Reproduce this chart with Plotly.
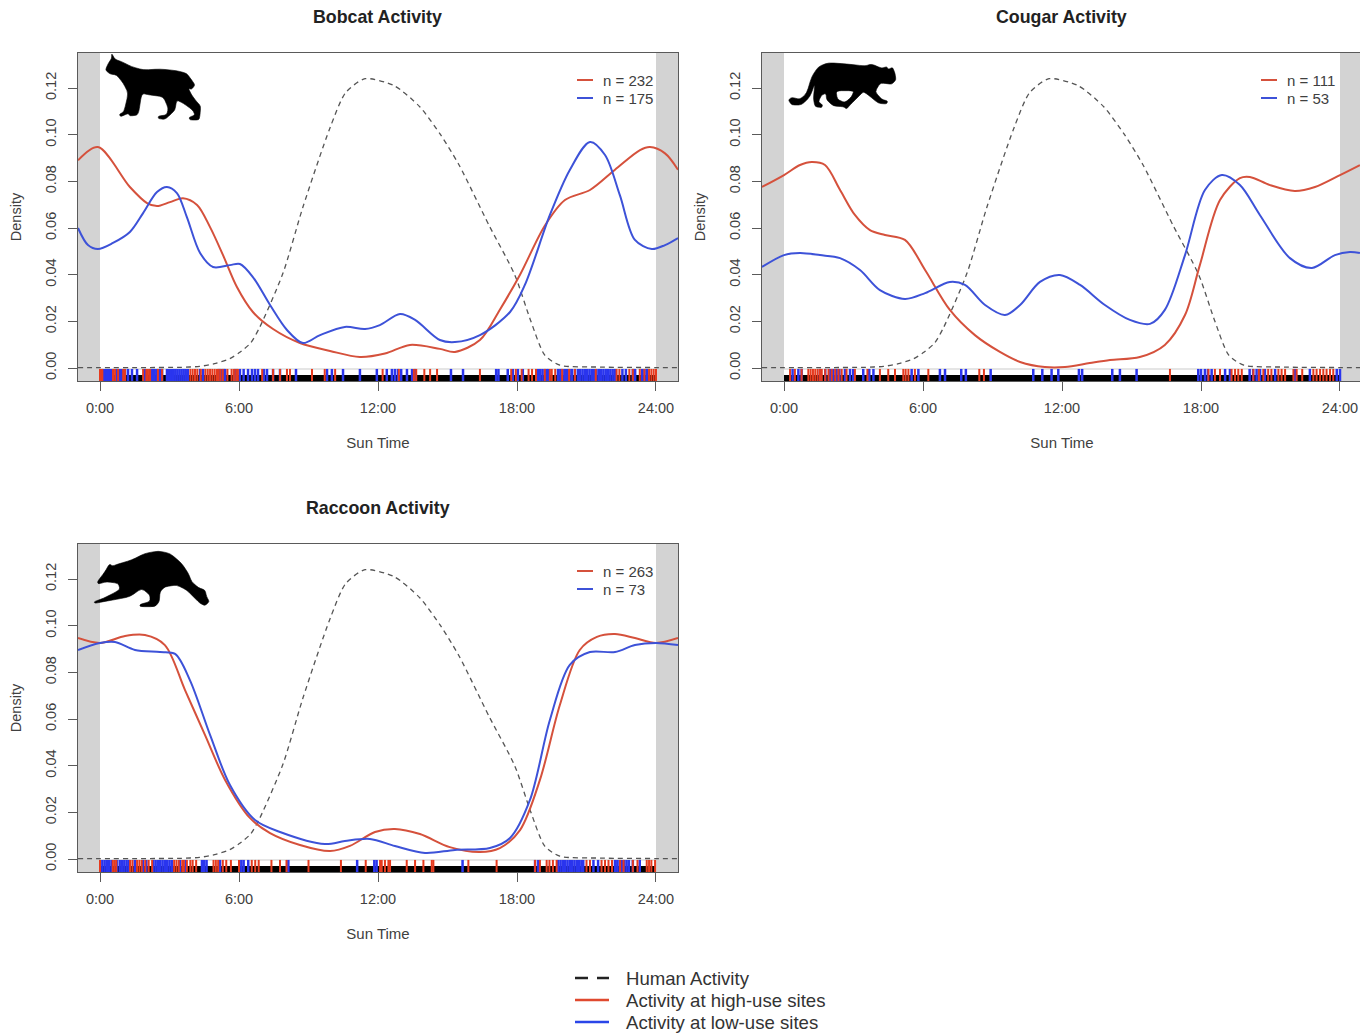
import plotly.graph_objects as go

W, H = 1367, 1036

# ---------- Density curves (hour, density) ----------
human_h = [-0.95, 0, 2, 3.5, 4.3, 5, 5.6, 6, 6.5, 6.9, 7.9, 8.76, 9.93, 10.6, 11.44, 12.7, 13.8, 14.7, 15.5, 16.8, 17.9, 18.6, 19.2, 19.85, 21.6, 24, 24.95]
human_d = [0.0002, 0.0002, 0.0002, 0.0003, 0.0007, 0.002, 0.004, 0.0065, 0.0107, 0.0176, 0.0407, 0.069, 0.103, 0.118, 0.124, 0.121, 0.112, 0.1, 0.087, 0.061, 0.04, 0.02, 0.0055, 0.0012, 0.0004, 0.0002, 0.0002]

bob_red_h = [-0.95, -0.09, 1.29, 2.03, 2.46, 3.02, 3.58, 4.19, 4.75, 5.31, 5.91, 6.6, 7.47, 8.63, 9.93, 11.22, 12.3, 13.38, 14.67, 15.32, 16.4, 17.26, 18.13, 19.2, 20.07, 21.15, 22.23, 23.31, 23.74, 24.39, 24.95]
bob_red_d = [0.089, 0.0947, 0.0776, 0.0707, 0.0694, 0.0711, 0.0728, 0.0699, 0.0604, 0.0484, 0.0347, 0.024, 0.0167, 0.0107, 0.0073, 0.0047, 0.0062, 0.0099, 0.0082, 0.0069, 0.012, 0.025, 0.04, 0.061, 0.072, 0.0763, 0.085, 0.0934, 0.0947, 0.092, 0.085]
bob_blue_h = [-0.95, -0.52, -0.09, 0.56, 1.29, 1.86, 2.46, 2.89, 3.32, 3.75, 4.32, 4.88, 5.61, 6.04, 6.6, 7.34, 8.07, 8.76, 9.5, 10.57, 11.44, 12.08, 12.95, 13.6, 14.67, 15.32, 16.4, 17.7, 18.34, 19.42, 20.28, 21.15, 21.8, 22.44, 23.09, 23.82, 24.39, 24.95]
bob_blue_d = [0.060, 0.0527, 0.051, 0.0536, 0.0583, 0.0664, 0.0754, 0.0776, 0.075, 0.0647, 0.0493, 0.0433, 0.0441, 0.0446, 0.039, 0.027, 0.0163, 0.0107, 0.0141, 0.0176, 0.0167, 0.0184, 0.0231, 0.0206, 0.012, 0.0111, 0.0141, 0.024, 0.0356, 0.0656, 0.0849, 0.0969, 0.0913, 0.0741, 0.0549, 0.051, 0.0527, 0.0557]

cou_red_h = [-0.95, 0, 0.69, 1.2, 1.77, 2.42, 3.06, 3.71, 4.36, 5.22, 6.09, 7.16, 8.24, 9.32, 10.19, 11.26, 12.13, 13.2, 14.07, 15.36, 16.44, 17.31, 17.95, 18.82, 19.68, 20.11, 20.98, 22.05, 22.92, 24, 24.86]
cou_red_d = [0.0776, 0.0827, 0.087, 0.0883, 0.087, 0.0763, 0.0656, 0.0591, 0.057, 0.0549, 0.042, 0.0249, 0.0141, 0.0069, 0.0026, 0.0004, 0.0004, 0.0021, 0.0034, 0.0047, 0.0099, 0.0227, 0.0441, 0.072, 0.0814, 0.0819, 0.0784, 0.0759, 0.0776, 0.0827, 0.087]
cou_blue_h = [-0.95, 0, 0.69, 1.55, 2.42, 3.28, 4.14, 5.22, 6.09, 7.16, 7.81, 8.68, 9.54, 10.19, 11.05, 11.91, 12.78, 13.85, 14.93, 15.8, 16.44, 17.31, 18.17, 18.9, 19.68, 20.54, 21.84, 22.79, 23.78, 24.43, 24.86]
cou_blue_d = [0.0433, 0.0484, 0.0493, 0.0484, 0.0471, 0.042, 0.0334, 0.0296, 0.0321, 0.0369, 0.0356, 0.027, 0.0227, 0.027, 0.0369, 0.0399, 0.0356, 0.027, 0.0206, 0.0189, 0.0249, 0.0484, 0.0763, 0.0827, 0.0784, 0.0656, 0.0471, 0.0429, 0.0484, 0.0497, 0.0493]

rac_red_h = [-0.95, 0, 1.08, 1.94, 2.8, 3.67, 4.53, 5.4, 6.47, 7.34, 8.63, 9.93, 10.79, 11.87, 12.73, 13.81, 15.1, 16.4, 17.26, 18.13, 18.99, 19.85, 20.71, 21.45, 22.23, 23.09, 24, 24.95]
rac_red_d = [0.0947, 0.0926, 0.0956, 0.096, 0.0917, 0.0724, 0.0532, 0.0339, 0.0176, 0.0111, 0.006, 0.0034, 0.0056, 0.0116, 0.0129, 0.0107, 0.0051, 0.003, 0.0047, 0.0124, 0.0339, 0.066, 0.0896, 0.0952, 0.0964, 0.0947, 0.0926, 0.0947]
rac_blue_h = [-0.95, 0, 0.65, 1.51, 2.59, 3.24, 3.88, 4.75, 5.61, 6.69, 7.77, 9.71, 10.57, 11.65, 12.73, 14.03, 15.32, 16.83, 17.7, 18.56, 19.42, 20.28, 21.15, 22.23, 23.09, 24, 24.95]
rac_blue_d = [0.0896, 0.0926, 0.093, 0.0896, 0.0887, 0.0879, 0.0767, 0.0532, 0.0317, 0.0167, 0.0116, 0.0064, 0.0077, 0.0086, 0.0056, 0.0026, 0.0039, 0.0047, 0.009, 0.0253, 0.0596, 0.0832, 0.0887, 0.0887, 0.0917, 0.0926, 0.0917]

# ---------- Rug times (hours) ----------
bob_rug_blue = [.13,.22,.31,.4,.48,.56,.73,.82,.91,1.0,1.08,1.21,1.38,1.6,1.94,2.16,2.25,2.34,2.43,2.52,2.6,2.68,2.89,2.98,3.07,3.16,3.25,3.34,3.43,3.52,3.61,3.7,3.79,4.32,4.45,5.09,5.18,5.27,5.35,5.4,5.83,5.92,6.04,6.2,6.39,6.56,6.69,6.82,7.08,7.21,7.47,7.77,8.46,9.8,10.01,10.49,11.22,11.95,12.38,12.6,12.73,12.86,13.0,13.25,13.47,13.6,15.15,15.67,17.1,17.2,17.6,17.82,18.04,18.25,18.9,19.0,19.1,19.2,19.3,19.35,19.77,19.87,19.97,20.07,20.17,20.27,20.37,20.5,20.63,20.73,20.83,20.93,21.03,21.13,21.23,21.33,21.43,21.53,21.63,21.73,21.83,21.93,22.03,22.13,22.23,22.55,22.7,23.0,23.1,23.4,23.5,23.6]
bob_rug_red = [0,.05,.1,.56,.65,.78,1.0,1.08,1.86,2.0,2.07,2.16,2.5,2.68,3.9,4.0,4.1,4.2,4.35,4.55,4.65,4.75,4.85,4.95,5.05,5.12,5.2,5.3,5.5,5.68,5.78,5.88,5.95,7.0,7.47,7.77,8.07,8.2,9.15,9.7,10.15,12.2,12.9,13.55,13.65,14.0,14.25,14.55,16.4,17.75,17.95,18.2,18.5,18.65,18.82,19.2,19.42,19.5,19.65,19.95,20.25,20.5,21.4,22.3,22.42,22.85,23.0,23.3,23.5,23.7,23.8,23.9,24.0]
cou_rug_red = [.26,.47,.76,1.05,1.15,1.25,1.35,1.45,1.55,1.63,1.78,1.92,2.06,2.21,2.35,2.49,2.7,3.06,3.6,4.14,4.5,4.79,5.15,5.25,5.37,5.65,6.23,8.43,8.63,16.66,18.32,18.6,18.82,19.32,19.47,19.61,19.76,20.26,20.5,20.69,20.9,21.04,21.34,21.48,21.63,21.99,22.13,22.37,22.85,22.99,23.14,23.28,23.42,23.57,23.71]
cou_rug_blue = [.37,.62,.76,1.55,1.78,2.0,2.13,2.27,2.39,2.63,2.85,2.99,3.42,3.68,3.86,5.51,5.8,6.73,6.95,7.65,7.85,8.92,10.76,11.15,11.55,11.84,12.73,12.87,14.17,14.5,15.22,17.88,18.0,18.17,18.3,18.46,19.04,19.25,20.1,20.25,20.4,20.55,20.76,21.2,22.06,22.7,23.86,24.0]
rac_rug_blue = [.1,.2,.3,.4,.5,.72,.85,.95,1.05,1.15,1.25,1.5,1.85,2.0,2.3,2.4,2.5,2.6,2.7,2.8,2.9,3.0,3.1,3.45,3.7,4.4,4.5,4.6,5.18,6.1,6.2,6.4,8.13,11.1,11.84,11.94,15.65,18.78,18.92,19.78,19.88,19.98,20.08,20.18,20.28,20.38,20.48,20.58,20.68,20.78,20.86,21.3,21.5,22.23,22.33,22.43,22.53,22.63,22.73,22.83,23.0,23.3]
rac_rug_red = [0,.55,.62,.7,1.3,1.4,1.6,1.7,1.8,1.95,2.1,2.25,3.2,3.3,3.4,3.55,3.62,3.75,3.9,4.0,4.15,4.9,5.0,5.1,5.3,5.45,5.65,6.0,6.55,6.7,6.85,7.4,7.77,8.05,9.0,10.4,11.47,12.09,12.16,12.3,12.45,12.52,13.24,13.6,13.96,14.32,14.39,15.9,17.12,18.78,18.99,19.28,19.4,19.55,19.71,21.0,21.15,21.65,21.8,21.95,22.1,22.45,22.6,23.0,23.2,23.6,23.7,23.8,23.96]

# ---------- Text ----------
titles = ["Bobcat Activity", "Cougar Activity", "Raccoon Activity"]
n_high = ["n = 232", "n = 111", "n = 263"]
n_low = ["n = 175", "n = 53", "n = 73"]
hour_ticks = [0, 6, 12, 18, 24]
hour_labels = ["0:00", "6:00", "12:00", "18:00", "24:00"]
density_ticks = [0, 0.02, 0.04, 0.06, 0.08, 0.10, 0.12]
legend_names = ["Human Activity", "Activity at high-use sites", "Activity at low-use sites"]

# ---------- Silhouette outlines, in local outline units ----------
bobcat_outline = [(335,160),(345,178),(365,185),(395,200),(430,210),(480,207),(530,212),(560,220),(575,240),(585,255),(575,268),(565,265),(575,285),(590,305),(602,318),(600,345),(597,360),(570,360),(567,352),(585,345),(578,330),(550,310),(530,300),(525,330),(510,345),(495,358),(475,356),(475,348),(500,345),(505,325),(490,290),(450,285),(425,280),(415,345),(390,348),(385,340),(362,350),(358,343),(372,335),(385,280),(370,250),(350,225),(330,222),(316,210),(325,190),(335,175)]
cougar_outline = [(115,180),(125,172),(150,178),(170,160),(185,110),(205,80),(235,68),(290,72),(345,78),(365,72),(395,85),(410,80),(415,88),(428,82),(435,100),(438,120),(425,133),(405,130),(390,130),(375,155),(395,178),(413,183),(410,192),(385,190),(355,165),(340,155),(325,170),(300,195),(290,207),(280,200),(250,198),(230,180),(228,160),(215,165),(205,185),(218,195),(215,203),(195,200),(190,175),(195,130),(180,170),(155,195),(125,195)]
cougar_hole = [(258,152),(262,178),(285,188),(305,170),(312,152)]
raccoon_outline = [(72,185),(100,175),(130,160),(150,148),(145,130),(110,125),(85,132),(82,125),(105,95),(118,72),(128,78),(145,72),(185,60),(225,40),(265,33),(300,40),(335,70),(355,100),(365,125),(385,143),(405,150),(410,170),(418,185),(405,197),(390,190),(370,170),(350,150),(320,135),(285,140),(270,155),(268,185),(255,200),(210,200),(210,193),(240,185),(240,165),(215,145),(180,170),(140,178),(100,185),(75,190)]

# ---------- Style ----------
RED, BLUE = "#d5513c", "#3d52d8"
RUG_RED, RUG_BLUE = "#e63a1e", "#2a35ee"
AX = "#5a5a5a"
TXT = "#404040"
FONT = "Liberation Sans"
X_RANGE = [-0.95, 24.95]
Y_RANGE = [-0.00557, 0.13502]
RUG_LOW, RUG_TOP = -0.00557, -0.0004
BAND_Y = -0.0043

px = lambda v: v / W
py = lambda v: 1 - v / H

panels = [
    dict(box=(78, 53), red=(bob_red_h, bob_red_d), blue=(bob_blue_h, bob_blue_d), rr=bob_rug_red, rb=bob_rug_blue),
    dict(box=(762, 53), red=(cou_red_h, cou_red_d), blue=(cou_blue_h, cou_blue_d), rr=cou_rug_red, rb=cou_rug_blue),
    dict(box=(78, 544), red=(rac_red_h, rac_red_d), blue=(rac_blue_h, rac_blue_d), rr=rac_rug_red, rb=rac_rug_blue),
]


def rug_xy(times):
    xs, ys = [], []
    for t in times:
        xs += [t, t, None]
        ys += [RUG_LOW, RUG_TOP, None]
    return xs, ys


fig = go.Figure()
shapes, annotations = [], []
layout = {}

for i, p in enumerate(panels):
    sfx = "" if i == 0 else str(i + 1)
    xa, ya = "x" + sfx, "y" + sfx
    left, top = p["box"]
    layout["xaxis" + sfx] = dict(
        domain=[px(left), px(left + 600)], range=X_RANGE, anchor=ya,
        tickmode="array", tickvals=hour_ticks, ticktext=hour_labels,
        ticks="outside", ticklen=9, tickwidth=1.2, tickcolor=AX, ticklabelstandoff=4,
        showline=True, linecolor=AX, linewidth=1.4, mirror=True, showgrid=False, zeroline=False,
        tickfont=dict(family=FONT, size=14.5, color=TXT),
        title=dict(text="Sun Time", standoff=22, font=dict(family=FONT, size=15, color=TXT)),
    )
    layout["yaxis" + sfx] = dict(
        domain=[py(top + 328), py(top)], range=Y_RANGE, anchor=xa,
        tickmode="array", tickvals=density_ticks, tickformat=".2f", tickangle=-90,
        ticks="outside", ticklen=9, tickwidth=1.2, tickcolor=AX, ticklabelstandoff=6,
        showline=True, linecolor=AX, linewidth=1.4, mirror=True, showgrid=False, zeroline=False,
        tickfont=dict(family=FONT, size=14.5, color=TXT),
        title=dict(text="Density", standoff=17, font=dict(family=FONT, size=14.5, color=TXT)),
    )
    # Night bands
    for x0, x1 in ((X_RANGE[0], 0), (24, X_RANGE[1])):
        shapes.append(dict(type="rect", xref=xa, yref=ya + " domain", x0=x0, x1=x1, y0=0, y1=1,
                           fillcolor="#d3d3d3", line_width=0, layer="below"))
    # Rug base: pale line on top, black band below
    fig.add_trace(go.Scatter(x=[0, 24], y=[RUG_TOP, RUG_TOP], mode="lines", xaxis=xa, yaxis=ya,
                             line=dict(color="#dcdcdc", width=1.6), showlegend=False, hoverinfo="skip"))
    fig.add_trace(go.Scatter(x=[0, 24], y=[BAND_Y, BAND_Y], mode="lines", xaxis=xa, yaxis=ya,
                             line=dict(color="#000000", width=6), showlegend=False, hoverinfo="skip"))
    bx, by = rug_xy(p["rb"])
    fig.add_trace(go.Scatter(x=bx, y=by, mode="lines", xaxis=xa, yaxis=ya, name="low-use detections",
                             line=dict(color=RUG_BLUE, width=2.5), showlegend=False))
    rx, ry = rug_xy(p["rr"])
    fig.add_trace(go.Scatter(x=rx, y=ry, mode="lines", xaxis=xa, yaxis=ya, name="high-use detections",
                             line=dict(color=RUG_RED, width=2.0), showlegend=False))
    # Curves
    fig.add_trace(go.Scatter(x=human_h, y=human_d, mode="lines", xaxis=xa, yaxis=ya, name=legend_names[0],
                             line=dict(color="#555555", width=1.3, dash="5px,4px", shape="spline", smoothing=0.7),
                             showlegend=False))
    fig.add_trace(go.Scatter(x=p["red"][0], y=p["red"][1], mode="lines", xaxis=xa, yaxis=ya, name=legend_names[1],
                             line=dict(color=RED, width=2, shape="spline", smoothing=0.9), showlegend=False))
    fig.add_trace(go.Scatter(x=p["blue"][0], y=p["blue"][1], mode="lines", xaxis=xa, yaxis=ya, name=legend_names[2],
                             line=dict(color=BLUE, width=2, shape="spline", smoothing=0.9), showlegend=False))
    # Panel title
    annotations.append(dict(text="<b>%s</b>" % titles[i], xref="paper", yref="paper",
                            x=px(left + 299.5), y=py(top - 36), xanchor="center", yanchor="middle",
                            showarrow=False, font=dict(family=FONT, size=17.8, color="#222222")))
    # Per-panel n labels
    for k, (label, col) in enumerate(((n_high[i], RED), (n_low[i], BLUE))):
        rowy = top + 27 + 18 * k
        shapes.append(dict(type="line", xref="paper", yref="paper", x0=px(left + 499), x1=px(left + 515),
                           y0=py(rowy), y1=py(rowy), line=dict(color=col, width=2)))
        annotations.append(dict(text=label, xref="paper", yref="paper", x=px(left + 523), y=py(rowy + 0.5),
                                xanchor="left", yanchor="middle", showarrow=False,
                                font=dict(family=FONT, size=15, color=TXT)))


def outline_path(points, ox, oy, cut=0.3):
    """Closed outline whose corners are only slightly rounded."""
    pts = [(px(ox + a / 3), py(oy + b / 3)) for a, b in points]
    n = len(pts)
    lerp = lambda u, v, t: (u[0] + (v[0] - u[0]) * t, u[1] + (v[1] - u[1]) * t)
    d = "M%.5f,%.5f" % lerp(pts[0], pts[-1], cut)
    for j in range(n):
        nxt = pts[(j + 1) % n]
        d += " Q%.5f,%.5f %.5f,%.5f" % (pts[j] + lerp(pts[j], nxt, cut))
        d += " L%.5f,%.5f" % lerp(nxt, pts[j], cut)
    return d + " Z"


sil = [
    outline_path(bobcat_outline, 0, 0),
    outline_path(cougar_outline, 750, 40) + " " + outline_path(cougar_hole, 750, 40),
    outline_path(raccoon_outline, 70, 540),
]
for d in sil:
    shapes.append(dict(type="path", xref="paper", yref="paper", path=d, fillcolor="#000000",
                       line=dict(color="#000000", width=0.6), layer="above"))

# Shared legend at the bottom of the page
rows = [(978, "#222222", "dash"), (1000, "#e0492f", "solid"), (1022, "#2a45e8", "solid")]
for (rowy, col, dash), label in zip(rows, legend_names):
    shapes.append(dict(type="line", xref="paper", yref="paper", x0=px(575), x1=px(609), y0=py(rowy), y1=py(rowy),
                       line=dict(color=col, width=2.4, dash="13px,9px" if dash == "dash" else "solid")))
    annotations.append(dict(text=label, xref="paper", yref="paper", x=px(624), y=py(rowy + 0.5),
                            xanchor="left", yanchor="middle", showarrow=False,
                            font=dict(family=FONT, size=18.6, color="#333333")))

# The reference image ends at x = 1360
shapes.append(dict(type="rect", xref="paper", yref="paper", x0=px(1360), x1=1, y0=0, y1=1,
                   fillcolor="#ffffff", line_width=0, layer="above"))

fig.update_layout(
    width=W, height=H, margin=dict(l=0, r=0, t=0, b=0, autoexpand=False),
    paper_bgcolor="#ffffff", plot_bgcolor="#ffffff", showlegend=False,
    shapes=shapes, annotations=annotations, **layout,
)

fig.write_html("out.html", config={"displayModeBar": False},
               post_script="document.body.style.margin='0';document.documentElement.style.overflow='hidden';")
